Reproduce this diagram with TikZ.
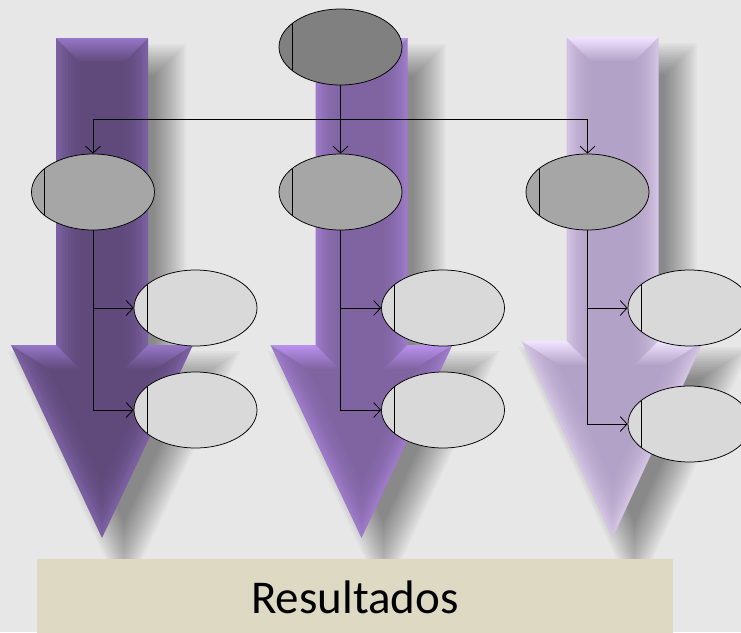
\documentclass[tikz,border=0pt]{standalone}
\usepackage{fontspec}
\setmainfont{Carlito}
\definecolor{slidebg}{RGB}{231, 231, 231}
\definecolor{purple1}{RGB}{96, 74, 123}
\definecolor{purple2}{RGB}{128, 100, 162}
\definecolor{purple3}{RGB}{179, 162, 199}
\definecolor{glow1}{RGB}{150, 118, 200}
\definecolor{glow2}{RGB}{185, 145, 238}
\definecolor{glow3}{RGB}{240, 228, 255}
\definecolor{nodetop}{RGB}{128, 128, 128}
\definecolor{nodemid}{RGB}{166, 166, 166}
\definecolor{nodelow}{RGB}{217, 217, 217}
\definecolor{resultbg}{RGB}{221, 217, 195}
\usetikzlibrary{shapes.geometric, arrows.meta, positioning, calc}

% bevelled block arrow: centre x, top y, head y, tip y, base colour, edge colour
\newcommand{\blockarrow}[6]{%
  % soft shadow
  \foreach \k in {-16,-14,...,16}
    \fill[black, fill opacity=0.026]
      ({#1+22-46+\k},{#2+22+\k}) -- ({#1+22+46-\k},{#2+22+\k}) -- ({#1+22+46-\k},{#3+22+\k}) -- ({#1+22+91-1.574*\k},{#3+22+\k})
      -- (#1+22,{#4+22-2.355*\k}) -- ({#1+22-91+1.574*\k},{#3+22+\k}) -- ({#1+22-46+\k},{#3+22+\k}) -- cycle;
  % body with bevelled edges
  \foreach \k/\mix in {0/50, 3/40, 6/30, 9/22, 12/15, 15/10, 18/6, 21/3, 24/0}
    \fill[#6!\mix!#5]
      ({#1-46+\k},{#2+\k}) -- ({#1+46-\k},{#2+\k}) -- ({#1+46-\k},{#3+\k}) -- ({#1+91-1.574*\k},{#3+\k})
      -- (#1,{#4-2.355*\k}) -- ({#1-91+1.574*\k},{#3+\k}) -- ({#1-46+\k},{#3+\k}) -- cycle;
  \shade[top color=#6, bottom color=#5]
    (#1-46,#2) -- (#1+46,#2) -- (#1+22,#2+24) -- (#1-22,#2+24) -- cycle;
  \shade[top color=#6, bottom color=#5]
    (#1+46,#3) -- (#1+91,#3) -- (#1+53.2,#3+24) -- (#1+22,#3+24) -- cycle;
  \shade[top color=#6, bottom color=#5]
    (#1-46,#3) -- (#1-91,#3) -- (#1-53.2,#3+24) -- (#1-22,#3+24) -- cycle;
}

\tikzset{
  bubble/.style={ellipse, draw=black, line width=0.75pt, minimum width=123pt, minimum height=76pt, inner sep=0pt,
    path picture={\draw[line width=0.75pt] ([xshift=13pt]path picture bounding box.south west) -- ([xshift=13pt]path picture bounding box.north west);}},
  link/.style={line width=0.75pt, -{Straight Barb[length=7pt, width=15pt]}},
}

\begin{document}
\begin{tikzpicture}[x=1pt, y=-1pt]
  \useasboundingbox (0,0) rectangle (741,632);
  \fill[slidebg] (0,0) rectangle (741,632);

  % Arrows
  \blockarrow{102}{38}{345}{538}{purple1}{glow1}
  \blockarrow{361.5}{38}{345}{538}{purple2}{glow2}
  \blockarrow{612.5}{37}{341}{538}{purple3}{glow3}

  % Nodes
  \node[bubble, fill=nodetop] (top) at (340.5, 47) {};

  \node[bubble, fill=nodemid] (midA) at (93, 192) {};
  \node[bubble, fill=nodemid] (midB) at (340.5, 192) {};
  \node[bubble, fill=nodemid] (midC) at (587.5, 192) {};

  \node[bubble, fill=nodelow] (lowA1) at (195.5, 308) {};
  \node[bubble, fill=nodelow] (lowA2) at (195.5, 410) {};
  \node[bubble, fill=nodelow] (lowB1) at (443, 308) {};
  \node[bubble, fill=nodelow] (lowB2) at (443, 410) {};
  \node[bubble, fill=nodelow] (lowC1) at (689.5, 308) {};
  \node[bubble, fill=nodelow] (lowC2) at (689.5, 424) {};

  % Connectors
  \coordinate (bus) at (340.5, 119);
  \draw[line width=0.75pt] (top.south) -- (bus);
  \draw[link] (bus) -| (midA.north);
  \draw[link] (bus) -- (midB.north);
  \draw[link] (bus) -| (midC.north);

  \draw[link] (midA.south) |- (lowA1.west);
  \draw[link] (midA.south) |- (lowA2.west);
  \draw[link] (midB.south) |- (lowB1.west);
  \draw[link] (midB.south) |- (lowB2.west);
  \draw[link] (midC.south) |- (lowC1.west);
  \draw[link] (midC.south) |- (lowC2.west);

  % Bottom
  \node[fill=resultbg, minimum width=636pt, minimum height=77pt, inner sep=0pt, font=\fontsize{47}{50}\selectfont] (res) at (355, 597.5) {Resultados};
\end{tikzpicture}
\end{document}
